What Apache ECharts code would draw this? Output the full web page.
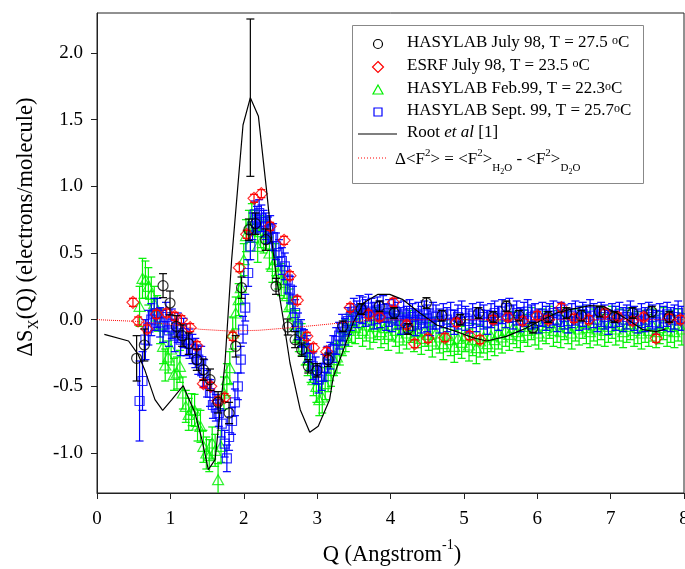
<!DOCTYPE html>
<html>
<head>
<meta charset="utf-8">
<script src="https://cdn.jsdelivr.net/npm/echarts@6/dist/echarts.min.js"></script>
<style>
html, body { margin: 0; background: #fff; }
#chart { width: 685px; height: 569px; }
</style>
</head>
<body>
<div id="chart"></div>
<script>
const FONT = 'Liberation Serif';

// [Q, dS, error]
const july98 = [
	[0.54,-0.29,0.17],[0.645,-0.19,0.12],[0.90,0.255,0.09],[0.995,0.125,0.09],[1.08,-0.05,0.08],
	[1.16,-0.12,0.08],[1.25,-0.18,0.08],[1.36,-0.30,0.08],[1.45,-0.375,0.08],[1.54,-0.45,0.08],
	[1.65,-0.62,0.08],[1.80,-0.70,0.08],[1.89,-0.20,0.08],[1.97,0.24,0.08],[2.07,0.675,0.08],
	[2.16,0.72,0.08],[2.30,0.60,0.08],[2.44,0.25,0.06],[2.60,-0.055,0.06],[2.70,-0.15,0.06],
	[2.79,-0.225,0.05],[2.88,-0.35,0.05],[3.00,-0.38,0.05],[3.15,-0.30,0.05],[3.35,-0.05,0.04],
	[3.60,0.08,0.04],[3.85,0.10,0.04],[4.05,0.05,0.04],[4.24,-0.07,0.04],[4.49,0.125,0.04],
	[4.70,0.03,0.04],[4.95,0.00,0.04],[5.20,0.05,0.04],[5.40,0.02,0.04],[5.58,0.10,0.04],
	[5.75,0.03,0.04],[5.94,-0.06,0.04],[6.15,0.02,0.04],[6.40,0.05,0.04],[6.60,0.03,0.04],
	[6.85,0.06,0.04],[7.05,0.02,0.04],[7.30,0.05,0.04],[7.56,0.06,0.04],[7.80,0.02,0.04]
];

const esrf98 = [
	[0.49,0.13,0.03],[0.56,-0.01,0.03],[0.68,-0.07,0.03],[0.81,0.04,0.03],[0.95,0.05,0.03],
	[1.06,0.025,0.03],[1.15,0.0,0.03],[1.27,-0.06,0.03],[1.36,-0.195,0.03],[1.45,-0.48,0.03],
	[1.55,-0.50,0.03],[1.65,-0.61,0.03],[1.74,-0.585,0.03],[1.85,-0.125,0.03],[1.94,0.39,0.03],
	[2.04,0.64,0.03],[2.14,0.91,0.03],[2.24,0.945,0.03],[2.36,0.70,0.03],[2.55,0.595,0.03],
	[2.63,0.33,0.03],[2.73,0.145,0.03],[2.86,-0.125,0.03],[2.95,-0.21,0.03],[3.13,-0.24,0.03],
	[3.45,0.09,0.03],[3.70,0.04,0.03],[3.85,0.02,0.03],[4.04,0.13,0.03],[4.22,-0.04,0.03],
	[4.33,-0.18,0.03],[4.51,-0.14,0.03],[4.74,-0.135,0.03],[4.90,-0.02,0.03],[5.08,-0.12,0.03],
	[5.22,-0.15,0.03],[5.40,0.0,0.03],[5.60,0.02,0.03],[5.80,-0.01,0.03],[6.00,0.03,0.03],
	[6.15,0.0,0.03],[6.33,0.09,0.03],[6.50,0.01,0.03],[6.70,0.0,0.03],[6.92,0.05,0.03],
	[7.10,0.02,0.03],[7.30,-0.01,0.03],[7.45,0.02,0.03],[7.62,-0.14,0.03],[7.80,0.01,0.03],
	[7.95,0.0,0.03]
];

const feb99 = [
	[0.58,0.10,0.15],[0.62,0.31,0.15],[0.66,0.30,0.14],[0.70,0.25,0.14],[0.74,0.19,0.13],
	[0.78,0.12,0.13],[0.82,0.05,0.13],[0.86,-0.05,0.13],[0.90,-0.20,0.13],[0.93,-0.34,0.12],
	[0.97,-0.28,0.12],[1.01,-0.22,0.12],[1.05,-0.41,0.12],[1.09,-0.40,0.12],[1.13,-0.35,0.12],
	[1.17,-0.55,0.12],[1.21,-0.65,0.12],[1.25,-0.71,0.12],[1.29,-0.675,0.12],[1.33,-0.68,0.12],
	[1.37,-0.79,0.12],[1.41,-0.80,0.12],[1.45,-0.95,0.12],[1.49,-1.00,0.12],[1.53,-1.02,0.12],
	[1.57,-0.925,0.12],[1.61,-0.98,0.12],[1.65,-1.20,0.12],[1.69,-0.95,0.12],[1.73,-0.55,0.12],
	[1.77,-0.45,0.12],[1.81,-0.36,0.12],[1.85,-0.10,0.12],[1.89,0.05,0.12],[1.93,0.15,0.12],
	[1.96,0.24,0.12],[2.00,0.45,0.12],[2.03,0.63,0.12],[2.07,0.70,0.12],[2.11,0.75,0.12],
	[2.15,0.70,0.12],[2.19,0.55,0.12],[2.23,0.66,0.12],[2.27,0.62,0.12],[2.31,0.65,0.12],
	[2.35,0.50,0.12],[2.39,0.40,0.12],[2.43,0.45,0.12],[2.47,0.35,0.12],[2.51,0.30,0.12],
	[2.55,0.28,0.12],[2.59,0.18,0.12],[2.63,0.11,0.12],[2.67,0.05,0.12],[2.71,-0.05,0.12],
	[2.75,-0.12,0.12],[2.79,-0.15,0.12],[2.83,-0.22,0.12],[2.87,-0.30,0.12],[2.91,-0.35,0.12],
	[2.95,-0.45,0.12],[2.99,-0.50,0.12],[3.03,-0.60,0.12],[3.07,-0.58,0.12],[3.11,-0.48,0.12],
	[3.15,-0.42,0.12],[3.19,-0.38,0.12],[3.23,-0.30,0.12],[3.27,-0.28,0.12],[3.31,-0.22,0.12],
	[3.35,-0.15,0.12],[3.39,-0.12,0.12],[3.43,-0.08,0.12],[3.47,-0.05,0.12],[3.52,-0.06,0.12],
	[3.57,-0.02,0.12],[3.62,-0.08,0.12],[3.67,-0.04,0.12],[3.72,-0.10,0.12],[3.77,-0.05,0.12],
	[3.82,-0.03,0.12],[3.87,-0.09,0.12],[3.92,-0.06,0.12],[3.97,-0.11,0.12],[4.02,-0.04,0.12],
	[4.07,-0.08,0.12],[4.12,-0.13,0.12],[4.17,-0.07,0.12],[4.22,-0.10,0.12],[4.27,-0.05,0.12],
	[4.32,-0.12,0.12],[4.37,-0.09,0.12],[4.42,-0.14,0.12],[4.47,-0.08,0.12],[4.52,-0.11,0.12],
	[4.57,-0.16,0.12],[4.62,-0.10,0.12],[4.67,-0.13,0.12],[4.72,-0.18,0.12],[4.77,-0.12,0.12],
	[4.82,-0.15,0.12],[4.87,-0.20,0.12],[4.92,-0.14,0.12],[4.97,-0.17,0.12],[5.02,-0.12,0.12],
	[5.07,-0.19,0.12],[5.12,-0.15,0.12],[5.17,-0.21,0.12],[5.22,-0.16,0.12],[5.27,-0.13,0.12],
	[5.32,-0.18,0.12],[5.37,-0.12,0.12],[5.42,-0.15,0.12],[5.47,-0.10,0.12],[5.52,-0.13,0.12],
	[5.57,-0.08,0.12],[5.62,-0.11,0.12],[5.67,-0.06,0.12],[5.72,-0.09,0.12],[5.77,-0.12,0.12],
	[5.82,-0.05,0.12],[5.87,-0.08,0.12],[5.92,-0.03,0.12],[5.97,-0.07,0.12],[6.02,-0.10,0.12],
	[6.07,-0.04,0.12],[6.12,-0.06,0.12],[6.17,-0.02,0.12],[6.22,-0.08,0.12],[6.27,-0.05,0.12],
	[6.32,-0.09,0.12],[6.37,-0.03,0.12],[6.42,-0.06,0.12],[6.47,-0.10,0.12],[6.52,-0.04,0.12],
	[6.57,-0.07,0.12],[6.62,-0.02,0.12],[6.67,-0.06,0.12],[6.72,-0.09,0.12],[6.77,-0.04,0.12],
	[6.82,-0.07,0.12],[6.87,-0.03,0.12],[6.92,-0.08,0.12],[6.97,-0.05,0.12],[7.02,-0.02,0.12],
	[7.07,-0.07,0.12],[7.12,-0.04,0.12],[7.17,-0.09,0.12],[7.22,-0.05,0.12],[7.27,-0.03,0.12],
	[7.32,-0.08,0.12],[7.37,-0.06,0.12],[7.42,-0.10,0.12],[7.47,-0.05,0.12],[7.52,-0.08,0.12],
	[7.57,-0.04,0.12],[7.62,-0.09,0.12],[7.67,-0.06,0.12],[7.72,-0.03,0.12],[7.77,-0.08,0.12],
	[7.82,-0.05,0.12],[7.87,-0.09,0.12],[7.92,-0.04,0.12],[7.97,-0.07,0.12]
];

const sept99 = [
	[0.58,-0.61,0.30],[0.62,-0.46,0.22],[0.66,-0.15,0.15],[0.70,-0.06,0.13],[0.74,0.00,0.12],
	[0.78,0.04,0.12],[0.82,0.05,0.11],[0.86,-0.02,0.11],[0.90,-0.05,0.12],[0.94,0.02,0.11],
	[0.98,-0.08,0.12],[1.02,-0.03,0.11],[1.06,-0.12,0.12],[1.10,-0.06,0.11],[1.14,-0.15,0.12],
	[1.18,-0.10,0.11],[1.22,-0.15,0.12],[1.26,-0.18,0.11],[1.30,-0.22,0.11],[1.34,-0.25,0.11],
	[1.38,-0.30,0.11],[1.42,-0.31,0.11],[1.46,-0.40,0.10],[1.50,-0.48,0.10],[1.54,-0.55,0.10],
	[1.58,-0.64,0.10],[1.62,-0.66,0.10],[1.66,-0.70,0.10],[1.70,-0.78,0.10],[1.74,-0.93,0.10],
	[1.77,-1.04,0.10],[1.80,-0.88,0.10],[1.84,-0.76,0.10],[1.88,-0.62,0.10],[1.92,-0.50,0.10],
	[1.96,-0.30,0.10],[1.99,-0.075,0.10],[2.02,0.09,0.10],[2.06,0.35,0.10],[2.09,0.55,0.10],
	[2.12,0.70,0.10],[2.15,0.79,0.10],[2.18,0.75,0.10],[2.21,0.80,0.10],[2.24,0.76,0.10],
	[2.27,0.72,0.10],[2.30,0.70,0.10],[2.33,0.67,0.10],[2.36,0.68,0.10],[2.40,0.62,0.10],
	[2.44,0.55,0.10],[2.48,0.50,0.10],[2.52,0.44,0.10],[2.56,0.40,0.10],[2.60,0.30,0.10],
	[2.63,0.225,0.10],[2.67,0.15,0.10],[2.70,0.05,0.10],[2.74,-0.05,0.10],[2.78,-0.10,0.10],
	[2.82,-0.175,0.10],[2.86,-0.22,0.10],[2.90,-0.28,0.10],[2.94,-0.35,0.10],[2.98,-0.38,0.10],
	[3.02,-0.45,0.10],[3.06,-0.43,0.10],[3.10,-0.36,0.10],[3.14,-0.30,0.10],[3.18,-0.27,0.10],
	[3.22,-0.22,0.10],[3.26,-0.16,0.10],[3.30,-0.12,0.10],[3.34,-0.06,0.10],[3.38,-0.09,0.10],
	[3.42,-0.01,0.10],[3.46,0.02,0.10],[3.50,0.06,0.10],[3.54,0.04,0.10],[3.58,0.08,0.10],
	[3.62,0.07,0.10],[3.66,0.05,0.10],[3.70,0.09,0.10],[3.74,0.06,0.10],[3.78,0.03,0.10],
	[3.82,0.07,0.10],[3.86,0.04,0.10],[3.90,0.08,0.10],[3.94,0.02,0.10],[3.98,0.05,0.10],
	[4.02,0.01,0.10],[4.06,0.06,0.10],[4.10,0.03,0.10],[4.14,-0.01,0.10],[4.18,0.04,0.10],
	[4.22,0.00,0.10],[4.26,0.05,0.10],[4.30,0.02,0.10],[4.34,-0.02,0.10],[4.38,0.03,0.10],
	[4.42,0.00,0.10],[4.46,0.04,0.10],[4.50,0.01,0.10],[4.54,-0.02,0.10],[4.58,0.03,0.10],
	[4.62,0.02,0.09],[4.67,-0.01,0.09],[4.72,0.03,0.09],[4.77,0.00,0.09],[4.82,0.04,0.09],
	[4.87,-0.02,0.09],[4.92,0.02,0.09],[4.97,0.05,0.09],[5.02,0.01,0.09],[5.07,-0.01,0.09],
	[5.12,0.03,0.09],[5.17,0.00,0.09],[5.22,0.04,0.09],[5.27,0.02,0.09],[5.32,-0.02,0.09],
	[5.37,0.03,0.09],[5.42,0.05,0.09],[5.47,0.01,0.09],[5.52,0.06,0.09],[5.57,0.03,0.09],
	[5.62,0.07,0.09],[5.67,0.02,0.09],[5.72,0.05,0.09],[5.77,0.00,0.09],[5.82,0.04,0.09],
	[5.87,0.06,0.09],[5.92,0.02,0.09],[5.97,0.03,0.09],[6.02,-0.01,0.09],[6.07,0.04,0.09],
	[6.12,0.01,0.09],[6.17,0.03,0.09],[6.22,0.05,0.09],[6.27,0.00,0.09],[6.32,0.04,0.09],
	[6.37,0.02,0.09],[6.42,-0.01,0.09],[6.47,0.03,0.09],[6.52,0.05,0.09],[6.57,0.01,0.09],
	[6.62,0.04,0.09],[6.67,0.02,0.09],[6.72,0.06,0.09],[6.77,0.03,0.09],[6.82,0.00,0.09],
	[6.87,0.04,0.09],[6.92,0.02,0.09],[6.97,-0.02,0.09],[7.02,0.03,0.09],[7.07,0.01,0.09],
	[7.12,0.04,0.09],[7.17,0.00,0.09],[7.22,0.02,0.09],[7.27,0.05,0.09],[7.32,0.01,0.09],
	[7.37,-0.01,0.09],[7.42,0.03,0.09],[7.47,0.00,0.09],[7.52,0.04,0.09],[7.57,0.02,0.09],
	[7.62,-0.02,0.09],[7.67,0.03,0.09],[7.72,0.01,0.09],[7.77,0.04,0.09],[7.82,0.00,0.09],
	[7.87,0.02,0.09],[7.92,0.05,0.09],[7.97,0.01,0.09]
];

// Root et al [1], model curve
const rootCurve = [
	[0.10,-0.11],[0.43,-0.16],[0.56,-0.26],[0.65,-0.375],[0.79,-0.60],[0.895,-0.68],
	[1.02,-0.60],[1.175,-0.495],[1.335,-0.70],[1.43,-0.90],[1.517,-1.125],[1.61,-1.05],
	[1.744,-0.325],[1.835,0.45],[1.99,1.46],[2.09,1.665],[2.20,1.525],[2.31,0.975],
	[2.38,0.60],[2.45,0.30],[2.54,0.0],[2.63,-0.325],[2.77,-0.675],[2.90,-0.845],
	[3.015,-0.80],[3.17,-0.60],[3.22,-0.43],[3.36,-0.225],[3.49,-0.025],[3.63,0.125],
	[3.83,0.19],[3.99,0.19],[4.17,0.15],[4.40,0.05],[4.63,-0.04],[4.90,-0.09],
	[5.12,-0.135],[5.31,-0.16],[5.58,-0.125],[5.80,-0.075],[6.04,-0.01],[6.26,0.05],
	[6.44,0.075],[6.72,0.105],[6.90,0.10],[7.08,0.05],[7.26,-0.01],[7.44,-0.075],
	[7.62,-0.09],[7.75,-0.07]
];
const rootError = [[2.09,1.665,0.59]];

// delta <F^2> = <F^2>H2O - <F^2>D2O
const formFactorDiff = [
	[0,0],[0.5,-0.012],[1.0,-0.035],[1.4,-0.072],[1.8,-0.085],[2.2,-0.08],[2.6,-0.062],
	[3.0,-0.042],[3.4,-0.02],[3.7,-0.005],[4.2,0],[8,0]
];

const xTicks = [0,1,2,3,4,5,6,7,8];
const yTicks = [-1.0,-0.5,0.0,0.5,1.0,1.5,2.0];

const legendLabels = [
	'{t|HASYLAB July 98, T = 27.5 }{deg|o}{t|C}',
	'{t|ESRF July 98, T = 23.5 }{deg|o}{t|C}',
	'{t|HASYLAB Feb.99, T = 22.3}{deg|o}{t|C}',
	'{t|HASYLAB Sept. 99, T = 25.7}{deg|o}{t|C}',
	'{t|Root }{it|et al}{t| [1]}',
	'{m|Δ<F}{sup|2}{m|> = <F}{sup|2}{m|>}{sub|H}{sub2|2}{sub|O}{m| - <F}{sup|2}{m|>}{sub|D}{sub2|2}{sub|O}'
];

const legendRich = {
	t: {fontFamily: FONT, fontSize: 17, lineHeight: 19, verticalAlign: 'top'},
	it: {fontFamily: FONT, fontSize: 17, fontStyle: 'italic', lineHeight: 19, verticalAlign: 'top'},
	deg: {fontFamily: FONT, fontSize: 12, lineHeight: 12, verticalAlign: 'top'},
	m: {fontFamily: FONT, fontSize: 17, lineHeight: 19, verticalAlign: 'top', padding: [4, 0, 0, 0]},
	sup: {fontFamily: FONT, fontSize: 11, lineHeight: 11, verticalAlign: 'top'},
	sub: {fontFamily: FONT, fontSize: 11, lineHeight: 11, verticalAlign: 'top', padding: [15, 0, 0, 0]},
	sub2: {fontFamily: FONT, fontSize: 8, lineHeight: 8, verticalAlign: 'top', padding: [20, 0, 0, 0]}
};

const GREEN = '#00f000', BLUE = '#0000ff', RED = '#ff0000', BLACK = '#000000';

function errorBars(color, half) {
	return function (params, api) {
		const q = api.value(0), v = api.value(1), e = api.value(2);
		const hi = api.coord([q, v + e]);
		const lo = api.coord([q, v - e]);
		const style = {stroke: color, lineWidth: 1.2, fill: null};
		return {
			type: 'group',
			children: [
				{type: 'line', shape: {x1: hi[0], y1: hi[1], x2: lo[0], y2: lo[1]}, style},
				{type: 'line', shape: {x1: hi[0] - half, y1: hi[1], x2: hi[0] + half, y2: hi[1]}, style},
				{type: 'line', shape: {x1: lo[0] - half, y1: lo[1], x2: lo[0] + half, y2: lo[1]}, style}
			]
		};
	};
}

function barSeries(data, color, z) {
	return {
		type: 'custom',
		data: data,
		encode: {x: 0, y: 1},
		renderItem: errorBars(color, 4),
		clip: true,
		silent: true,
		z: z
	};
}

function markerSeries(name, data, symbol, size, color, z) {
	return {
		name: name,
		type: 'scatter',
		data: data.map(d => [d[0], d[1]]),
		symbol: symbol,
		symbolSize: size,
		itemStyle: {color: 'rgba(0,0,0,0)', borderColor: color, borderWidth: 1.2},
		emphasis: {disabled: true},
		silent: true,
		z: z
	};
}

// hand-made legend box, the symbols there are not data marks
function legendGraphic() {
	const sx = 378, tx = 407;
	const hollow = c => ({fill: 'transparent', stroke: c, lineWidth: 1.2});
	const rows = [44, 67, 90, 112, 134, 157];
	const kids = [
		{type: 'rect', shape: {x: 352.5, y: 25.5, width: 291, height: 158}, style: {fill: '#fff', stroke: '#888', lineWidth: 1}},
		{type: 'circle', shape: {cx: sx, cy: rows[0], r: 4.5}, style: hollow(BLACK)},
		{type: 'polygon', shape: {points: [[sx, rows[1] - 5.5], [sx + 5.5, rows[1]], [sx, rows[1] + 5.5], [sx - 5.5, rows[1]]]}, style: hollow(RED)},
		{type: 'polygon', shape: {points: [[sx, rows[2] - 5], [sx + 5, rows[2] + 4], [sx - 5, rows[2] + 4]]}, style: hollow(GREEN)},
		{type: 'rect', shape: {x: sx - 4, y: rows[3] - 4, width: 8, height: 8}, style: hollow(BLUE)},
		{type: 'line', shape: {x1: 358, y1: rows[4], x2: 397, y2: rows[4]}, style: {stroke: BLACK, lineWidth: 1.2}},
		{type: 'line', shape: {x1: 358, y1: rows[5] + 1, x2: 388, y2: rows[5] + 1}, style: {stroke: RED, lineWidth: 1, lineDash: [1, 2]}}
	];
	legendLabels.forEach((txt, i) => {
		kids.push({
			type: 'text', x: i === 5 ? 395 : tx, y: rows[i],
			style: {text: txt, rich: legendRich, align: 'left', verticalAlign: 'middle', fill: '#000'}
		});
	});
	return {type: 'group', z: 100, children: kids};
}

const chart = echarts.init(document.getElementById('chart'), null, {renderer: 'canvas'});

chart.setOption({
	animation: false,
	backgroundColor: '#fff',
	textStyle: {fontFamily: FONT},
	grid: {
		left: 97, right: 1, top: 13, bottom: 76,
		outerBoundsMode: 'none', containLabel: false,
		show: true, borderColor: '#222', borderWidth: 1, backgroundColor: 'transparent'
	},
	xAxis: {
		type: 'value', min: 0, max: 8, interval: 1,
		axisLine: {show: true, onZero: false, lineStyle: {color: '#222', width: 1}},
		axisTick: {show: true, length: 6, lineStyle: {color: '#222'}, customValues: xTicks},
		axisLabel: {margin: 17, fontFamily: FONT, fontSize: 19, color: '#000', customValues: xTicks},
		splitLine: {show: false}
	},
	yAxis: {
		type: 'value', min: -1.3, max: 2.3,
		axisLine: {show: true, onZero: false, lineStyle: {color: '#222', width: 1}},
		axisTick: {show: true, length: 6, lineStyle: {color: '#222'}, customValues: yTicks},
		axisLabel: {margin: 14, fontFamily: FONT, fontSize: 19, color: '#000', customValues: yTicks,
			formatter: v => v.toFixed(1)},
		splitLine: {show: false}
	},
	graphic: [
		{
			type: 'text', x: 27, y: 227, rotation: Math.PI / 2,
			style: {
				text: '{t|ΔS}{sub|X}{t|(Q) (electrons/molecule)}',
				align: 'center', verticalAlign: 'middle',
				fill: '#000',
				rich: {
					t: {fontFamily: FONT, fontSize: 22.5, lineHeight: 25, verticalAlign: 'top'},
					sub: {fontFamily: FONT, fontSize: 14, lineHeight: 14, verticalAlign: 'top', padding: [13, 0, 0, 0]}
				}
			}
		},
		{
			type: 'text', x: 392, y: 551,
			style: {
				text: '{t|Q (Angstrom}{sup|-1}{t|)}',
				align: 'center', verticalAlign: 'middle',
				fill: '#000',
				rich: {
					t: {fontFamily: FONT, fontSize: 22.5, lineHeight: 25, verticalAlign: 'top', padding: [5, 0, 0, 0]},
					sup: {fontFamily: FONT, fontSize: 14, lineHeight: 14, verticalAlign: 'top'}
				}
			}
		},
		legendGraphic()
	],
	series: [
		barSeries(feb99, GREEN, 2),
		markerSeries('HASYLAB Feb.99', feb99, 'triangle', [11, 10], GREEN, 2),
		barSeries(sept99, BLUE, 3),
		markerSeries('HASYLAB Sept. 99', sept99, 'rect', 9, BLUE, 3),
		barSeries(esrf98, RED, 4),
		markerSeries('ESRF July 98', esrf98, 'diamond', [12, 12], RED, 4),
		barSeries(july98, BLACK, 5),
		markerSeries('HASYLAB July 98', july98, 'circle', 10, BLACK, 5),
		{
			name: 'Root et al [1]',
			type: 'line',
			data: rootCurve,
			symbol: 'none',
			smooth: false,
			lineStyle: {color: BLACK, width: 1.2},
			silent: true,
			z: 6
		},
		barSeries(rootError, BLACK, 6),
		{
			name: 'dF2',
			type: 'line',
			data: formFactorDiff,
			symbol: 'none',
			lineStyle: {color: RED, width: 1, type: 'dotted'},
			silent: true,
			z: 7
		}
	]
});
</script>
</body>
</html>
